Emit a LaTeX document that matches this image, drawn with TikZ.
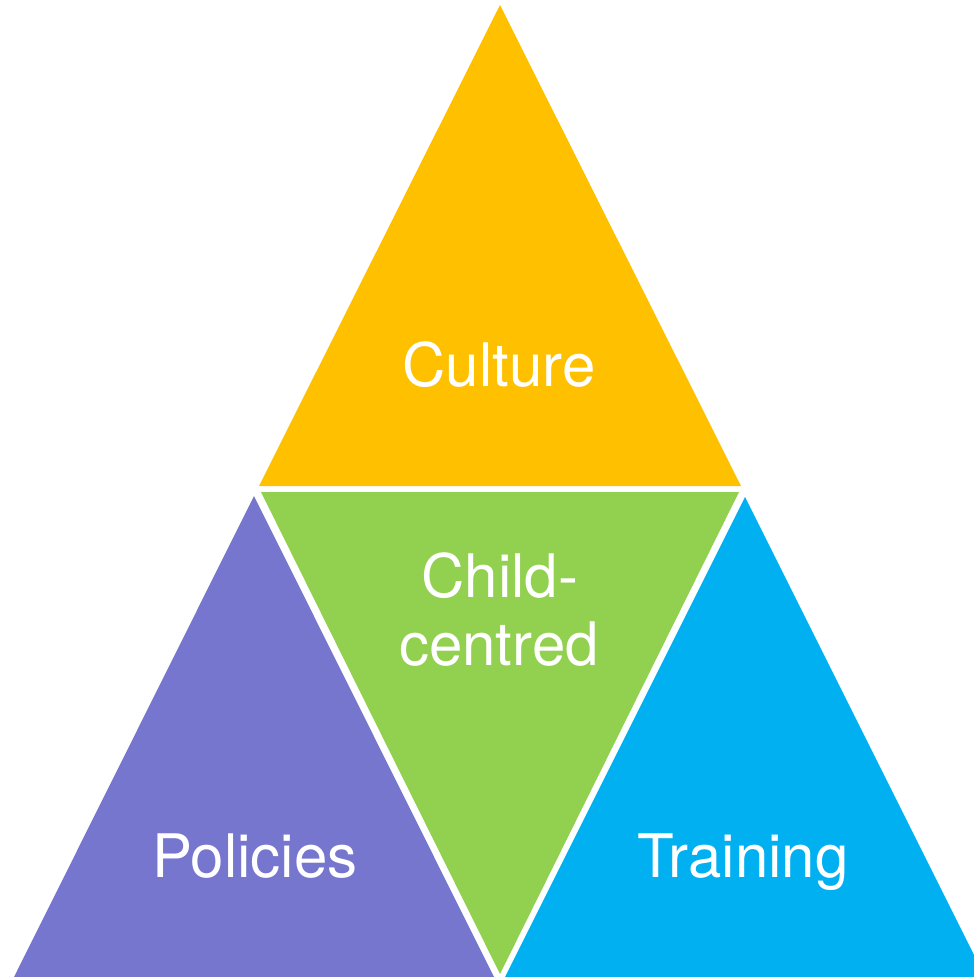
\documentclass[tikz,border=0pt]{standalone}
\usepackage{fontspec}
\setmainfont{TeX Gyre Heros}
\definecolor{cultureorange}{HTML}{FFC000}
\definecolor{childgreen}{HTML}{92D050}
\definecolor{policypurple}{HTML}{7676CF}
\definecolor{trainingblue}{HTML}{00B0F0}
\begin{document}
\begin{tikzpicture}[x=1pt,y=-1pt,
  label text/.style={text=white,font=\fontsize{60}{68}\selectfont,anchor=base,inner sep=0pt}]
\useasboundingbox (0,0) rectangle (974,977);
\clip (0,0) rectangle (974,977);
% four triangles separated by thin white gaps
\fill[cultureorange] (500,5) -- (741,486) -- (259,486) -- cycle;
\fill[childgreen] (261,492) -- (739,492) -- (500,974) -- cycle;
\fill[policypurple] (254,496) -- (494,977) -- (14,977) -- cycle;
\fill[trainingblue] (745,497) -- (985,977) -- (505,977) -- cycle;
% labels
\node[label text] (culture) at (499,386) {Culture};
\node[label text] (child) at (500,597) {Child-};
\node[label text] (centred) at (499,665) {centred};
\node[label text] (policies) at (255,877) {Policies};
\node[label text] (training) at (743,877) {Training};
\end{tikzpicture}
\end{document}
